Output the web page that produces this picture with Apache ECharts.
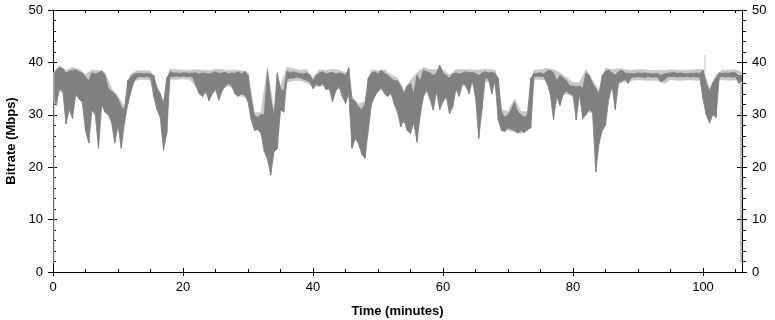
<!DOCTYPE html>
<html><head><meta charset="utf-8">
<script src="https://cdn.jsdelivr.net/npm/echarts@6/dist/echarts.min.js"></script>
<style>html,body{margin:0;padding:0;background:#fff}#c{width:775px;height:320px}</style>
</head><body><div id="c"></div>
<script>
// Dark trace: band top / bottom per 0.5-minute sample (t = 0, 0.5, ... 106)
const sampleStep = 0.5;
const darkHi = [
37.5,38.5,39,38.8,38,38.3,38.5,38.6,38.2,38,
37.2,36.5,38,37.8,38,38.4,37.5,35,34.5,34,
33,31.5,31,36.5,37.3,37.8,37.9,37.9,37.8,37.9,
37.8,37.5,35,34,32,37,38.2,38,38,37.9,
38,38,37.9,38,38,37.8,38,37.9,37.8,38,
38.2,37.9,38,38.1,37.8,38,37.9,38.2,37.8,38.3,
37.5,33,29.8,29.5,30,30,38.3,33,30,38,
35,34.5,38.3,38,38.2,38,37.9,37.8,38,37.6,
36.5,37.5,38,38.2,37.8,38,38.1,37.8,38,37.9,
37.5,39,33,32.5,31.5,31,32,37,38,38.2,
37.8,38.5,38,37.5,37,36.5,36.5,35.5,34,35.5,
36,34,37.5,36.5,38.5,38.2,38,37.5,38,39.5,
38,37.5,37,37.8,38,37.8,38,38.2,38,38.1,
37.9,37.5,38,38.2,38,38.1,37.9,37,30.5,29.5,
30,31,32.4,30.5,30,29.5,30,37,37.9,37.9,
38,37.8,38.3,38.5,38,36.5,37.5,37,36.5,35.5,
35.5,35.3,35.5,35,38,37.5,36,35,34,37.5,
38.3,38.5,38,37.6,38.2,38.5,38,37.9,37.9,37.8,
38,37.9,38,37.9,37.8,37.8,37.9,37.5,37.8,37.9,
38,38.1,37.9,38,37.9,37.8,37.9,37.9,38,37.9,
38.5,36,34.5,36,37,38,37.9,38,37.9,38.1,
38,37.5,37.5
];
const darkLo = [
33,31.8,35,34.5,28.3,31,29.3,34,33,32.4,
27,24.6,31,30,23.6,32,30.5,30,28.6,24.6,
28,23.6,28.5,32,34.5,36.5,37.2,37.3,37.2,37.3,
37.1,33.5,31,29.5,23.2,26.5,37.3,37.3,37.4,37.3,
37.4,37.3,37.3,37.2,35.5,34,33.5,34.5,32.7,34,
35,32.8,34.5,35.5,36,35.5,34,33.5,34,33.8,
32.5,29,27,27.2,26.5,23,21.5,18.5,23,23.5,
31,30.5,36.8,37,37,37.2,37.1,36.8,36.6,36.3,
35,35.8,35.5,36,34.8,35,32.5,34.5,35.5,33.5,
32.2,34,23.6,25.5,24.5,22.5,21.7,27,32,33.5,
34.5,35.2,34,33.5,34.2,32,30.5,27.7,29,27,
26.4,28.5,24.8,30,33.5,34.8,33,30.9,34.5,31,
32.5,33.5,30.2,31.5,35,33.5,36,35.5,34,36.5,
33.4,25.5,31,37,36.8,34,36.5,29,27,26.8,
27.5,27.3,27,26.5,27,26.6,27.2,27.5,37.3,37.4,
37.3,37.3,36,34,29,33.5,31.8,34,34.5,34,
33.8,29,34,29.3,30,31,30.5,19.1,24.5,27,
28,33,35.5,31,36,36.5,36.8,36,37.2,37.2,
37.3,37.2,37.1,37.3,37.2,37.2,37.2,36.3,36.6,37.2,
37.3,37.3,37.2,37.3,37.2,37.3,37.2,37.3,37.2,37.2,
33,30,28.4,30,29.5,37.2,37.3,37.2,37.3,37.2,
37.3,36,36.5
];
// Light trace: peak / floor per 1-minute sample (t = 0 ... 106)
const lightStep = 1;
const lightHi = [
38,39.4,38.5,39,38.7,37.7,38.5,38.5,38,35,
33.5,31.5,37.8,38.4,38.4,38.3,35.5,32.5,38.7,38.6,
38.5,38.5,38.6,38.5,38.4,38.7,38.6,38.4,38.5,38.4,
38,30.3,30.5,38.8,30.5,35.5,39,38.8,38.5,38.6,
37,38.6,38.4,38.7,38.5,38,33.5,32,32.5,38.6,
38.4,38.6,37.6,37,34.6,36.6,38,39,38.6,38.6,
38.6,37.6,38.6,38.6,38.6,38.5,38.6,38.7,38.5,31,
30.6,33,30.6,30.6,38.5,38.6,38.9,38.6,38,37.1,
36.1,36.1,38.6,36.6,34.6,38.9,38.6,38.8,38.6,38.5,
38.6,38.6,38.4,38.5,38.4,38.6,38.5,38.5,38.5,38.6,
38.6,35,37.6,38.5,38.5,38.6,38.1
];
const lightLo = [
32.5,34.5,34,33.5,33.5,32,30.5,31.5,31.5,29.5,
27.5,31.5,36,36.7,36.8,36.7,33,29,36.8,36.8,
36.9,36.8,35.5,34,34,34.5,35,35.5,35,33.5,
33.3,28.5,26.7,22.5,23,30.5,36.3,36.5,36.6,36.1,
35.5,35.5,35.5,34.5,35,33.5,33.5,25,26.5,33,
34.7,34.7,33.7,31.5,28.5,28,29.5,34.3,34.3,34,
33,33,34.5,35.5,36,36,36.5,36.3,36,28.5,
27,26.8,26.5,27,36.8,36.8,36.5,33.5,33.5,34,
33.5,33.5,30.5,30.5,26.5,32.5,35,36,36.3,36.6,
36.7,36.6,36.6,36.6,36,36.7,36.6,36.6,36.7,36.6,
36.7,29.5,36.7,36.7,36.6,36.7,36.6
];
// Thin vertical strokes: [time, from, to]
const dropStart = [[0.15, 38], [0.15, 1.6]];
const dropEnd = [[105.85, 37.5], [105.85, 1.8]];
const peakSpike = [[100.3, 38], [100.3, 41.4]];

const xMin = 0, xMax = 106, xMajor = 20, xMinor = 5;
const yMin = 0, yMax = 50, yMajor = 10;
const xTitle = 'Time (minutes)';
const yTitle = 'Bitrate (Mbps)';

function bandSeries(step, hiArr, loArr, color, z) {
  const rows = [];
  for (let k = 0; k < hiArr.length - 1; k++) {
    rows.push([k * step, hiArr[k], loArr[k], (k + 1) * step, hiArr[k + 1], loArr[k + 1]]);
  }
  return {
    type: 'custom', xAxisIndex: 0, yAxisIndex: 0, data: rows, silent: true, z: z, clip: true,
    encode: { x: [0, 3], y: [1, 2, 4, 5] },
    renderItem: function (params, api) {
      const p1 = api.coord([api.value(0), api.value(1)]);
      const p2 = api.coord([api.value(3), api.value(4)]);
      const p3 = api.coord([api.value(3), api.value(5)]);
      const p4 = api.coord([api.value(0), api.value(2)]);
      return { type: 'polygon', shape: { points: [p1, p2, p3, p4] },
        style: { fill: color, stroke: color, lineWidth: 0.8 } };
    }
  };
}
function strokeSeries(data, color, z) {
  return { type: 'line', xAxisIndex: 0, yAxisIndex: 0, data: data, showSymbol: false, symbol: 'none',
    silent: true, lineStyle: { color: color, width: 1 }, z: z };
}

const FONT = 'Liberation Sans';
const black = '#000';
function xAx(extra) {
  return Object.assign({
    type: 'value', min: xMin, max: xMax, position: 'bottom',
    axisLine: { show: true, onZero: false, lineStyle: { color: black, width: 1 } },
    axisTick: { show: true, lineStyle: { color: black, width: 1 } },
    axisLabel: { show: false },
    splitLine: { show: false }
  }, extra);
}
function yAx(extra) {
  return Object.assign({
    type: 'value', min: yMin, max: yMax, interval: yMajor, position: 'left',
    axisLine: { show: true, onZero: false, lineStyle: { color: black, width: 1 } },
    axisTick: { show: true, lineStyle: { color: black, width: 1 } },
    axisLabel: { show: false },
    splitLine: { show: false }
  }, extra);
}
const chart = echarts.init(document.getElementById('c'), null, { renderer: 'canvas' });
chart.setOption({
  animation: false,
  backgroundColor: '#fff',
  grid: { left: 53, right: 33, top: 10, bottom: 48, containLabel: false, outerBoundsMode: 'none' },
  xAxis: [
    xAx({ interval: xMajor, axisTick: { show: true, inside: false, length: 4, lineStyle: { color: black } },
      axisLabel: { show: true, color: black, fontSize: 13, fontFamily: FONT, margin: 9, showMaxLabel: false },
      name: xTitle, nameLocation: 'middle', nameGap: 33,
      nameTextStyle: { color: black, fontSize: 13, fontWeight: 'bold', fontFamily: FONT } }),
    xAx({ interval: xMajor, axisTick: { show: true, inside: true, length: 4, lineStyle: { color: black } } }),
    xAx({ interval: xMinor, axisTick: { show: true, inside: true, length: 3, lineStyle: { color: black } } }),
    xAx({ interval: xMinor, position: 'top', axisTick: { show: true, inside: true, length: 3, lineStyle: { color: black } } })
  ],
  yAxis: [
    yAx({ axisTick: { show: true, inside: false, length: 5, lineStyle: { color: black } },
      axisLabel: { show: true, color: black, fontSize: 13, fontFamily: FONT, margin: 10 },
      name: yTitle, nameLocation: 'middle', nameGap: 34,
      nameTextStyle: { color: black, fontSize: 13, fontWeight: 'bold', fontFamily: FONT } }),
    yAx({ axisTick: { show: true, inside: true, length: 4, lineStyle: { color: black } },
      minorTick: { show: true, splitNumber: 5, length: 3, lineStyle: { color: black } } }),
    yAx({ position: 'right', axisTick: { show: true, inside: false, length: 5, lineStyle: { color: black } },
      minorTick: { show: true, splitNumber: 5, length: 4, lineStyle: { color: black } },
      axisLabel: { show: true, color: black, fontSize: 13, fontFamily: FONT, margin: 10 } }),
    yAx({ position: 'right', axisTick: { show: true, inside: true, length: 5, lineStyle: { color: black } } })
  ],
  series: [
    bandSeries(lightStep, lightHi, lightLo, '#c8c8c8', 1),
    strokeSeries(peakSpike, '#c8c8c8', 1),
    bandSeries(sampleStep, darkHi, darkLo, '#808080', 2),
    strokeSeries(dropStart, '#c0c0c0', 3),
    strokeSeries(dropEnd, '#808080', 3)
  ]
});
</script></body></html>
